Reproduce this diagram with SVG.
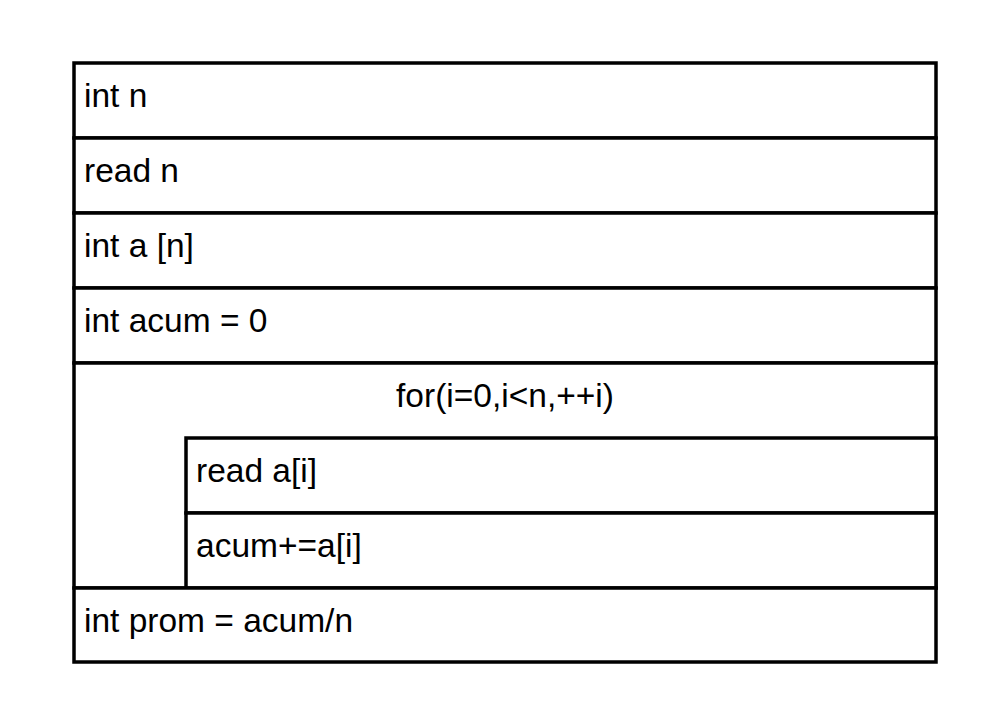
<svg xmlns="http://www.w3.org/2000/svg" width="1000" height="718" viewBox="0 0 1000 718">
  <style>
    .box { fill: #ffffff; stroke: #000000; stroke-width: 3.5; }
    .lbl { font-family: "Liberation Sans", Arial, sans-serif; font-size: 33.5px; fill: #000000; }
    .mid { text-anchor: middle; }
  </style>
  <rect width="1000" height="718" fill="#ffffff"/>
  <g id="s-int-n">
    <rect class="box" x="74" y="63" width="862" height="75"/>
    <text class="lbl" x="84" y="107">int n</text>
  </g>
  <g id="s-read-n">
    <rect class="box" x="74" y="138" width="862" height="75"/>
    <text class="lbl" x="84" y="182">read n</text>
  </g>
  <g id="s-int-a">
    <rect class="box" x="74" y="213" width="862" height="75"/>
    <text class="lbl" x="84" y="257">int a [n]</text>
  </g>
  <g id="s-acum">
    <rect class="box" x="74" y="288" width="862" height="75"/>
    <text class="lbl" x="84" y="332">int acum = 0</text>
  </g>
  <g id="s-for">
    <rect class="box" x="74" y="363" width="862" height="225"/>
    <text class="lbl mid" x="505" y="407">for(i=0,i&lt;n,++i)</text>
  </g>
  <g id="s-read-ai">
    <rect class="box" x="186" y="438" width="750" height="75"/>
    <text class="lbl" x="196" y="482">read a[i]</text>
  </g>
  <g id="s-acum-add">
    <rect class="box" x="186" y="513" width="750" height="75"/>
    <text class="lbl" x="196" y="557">acum+=a[i]</text>
  </g>
  <g id="s-prom">
    <rect class="box" x="74" y="588" width="862" height="74"/>
    <text class="lbl" x="84" y="632">int prom = acum/n</text>
  </g>
  <g id="connectors"/>
</svg>
